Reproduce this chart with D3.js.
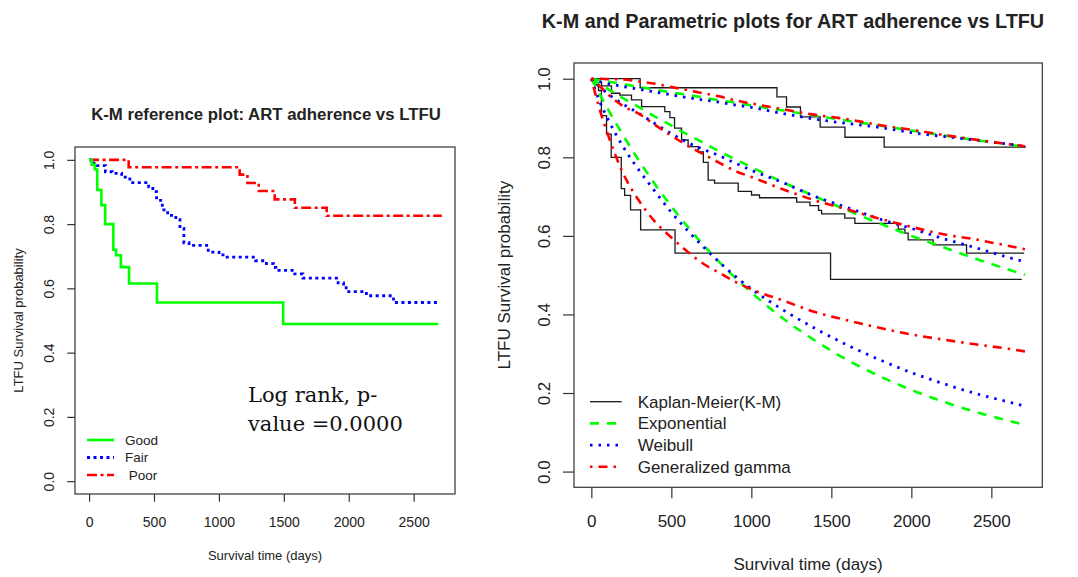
<!DOCTYPE html>
<html>
<head>
<meta charset="utf-8">
<script src="https://cdn.jsdelivr.net/npm/d3@7"></script>
<style>
	body { margin: 0; background: #fff; }
	svg text { font-family: "Liberation Sans", Arial, sans-serif; fill: #222; }
</style>
</head>
<body>
<div class="vis"></div>
<script>
// ---- data ----
const xTicks = [0, 500, 1000, 1500, 2000, 2500]
const yTicks = [0, 0.2, 0.4, 0.6, 0.8, 1.0]
const X_MAX = 2710

const groups = ['Good', 'Fair', 'Poor']
const groupLabels = ['Good', 'Fair', ' Poor']

// Kaplan-Meier steps (day of drop, survival after drop)
const kmGoodDays = [0, 20, 45, 63, 95, 124, 187, 208, 245, 308, 523, 1495]
const kmGoodSurv = [1.0, 0.985, 0.970, 0.906, 0.859, 0.800, 0.720, 0.703, 0.666, 0.615, 0.556, 0.489]
const kmFairDays = [0, 30, 64, 126, 178, 251, 314, 459, 491, 520, 564, 605, 668, 700, 730, 770, 918, 1001, 1051, 1283, 1366, 1420, 1439, 1584, 1647, 1918, 1960, 1980, 2136, 2345]
const kmFairSurv = [1.0, 0.990, 0.982, 0.963, 0.958, 0.946, 0.929, 0.916, 0.901, 0.874, 0.844, 0.827, 0.814, 0.787, 0.742, 0.734, 0.713, 0.704, 0.697, 0.686, 0.677, 0.665, 0.656, 0.645, 0.632, 0.617, 0.607, 0.590, 0.577, 0.556]
const kmPoorDays = [0, 305, 1160, 1220, 1307, 1430, 1585, 1830]
const kmPoorSurv = [1.0, 0.977, 0.954, 0.928, 0.903, 0.877, 0.851, 0.826]
const kmLastDay = [2690, 2705, 2717]

// parametric fits, read at these days
const fitDays = [0, 50, 100, 200, 300, 400, 500, 600, 700, 800, 900, 1000, 1200, 1400, 1600, 1800, 2000, 2200, 2400, 2600, 2710]
const expGood = [1.0, 0.962, 0.925, 0.855, 0.790, 0.730, 0.675, 0.624, 0.577, 0.533, 0.493, 0.456, 0.389, 0.333, 0.284, 0.243, 0.208, 0.178, 0.152, 0.130, 0.119]
const weibGood = [1.0, 0.944, 0.900, 0.826, 0.766, 0.712, 0.660, 0.614, 0.572, 0.533, 0.497, 0.465, 0.411, 0.364, 0.322, 0.285, 0.252, 0.224, 0.199, 0.178, 0.167]
const ggGood = [1.0, 0.925, 0.862, 0.758, 0.688, 0.635, 0.596, 0.560, 0.529, 0.506, 0.483, 0.464, 0.435, 0.406, 0.385, 0.366, 0.349, 0.336, 0.324, 0.313, 0.306]
const expFair = [1.0, 0.987, 0.975, 0.950, 0.927, 0.903, 0.881, 0.858, 0.837, 0.815, 0.795, 0.775, 0.736, 0.700, 0.665, 0.632, 0.600, 0.571, 0.542, 0.515, 0.501]
const weibFair = [1.0, 0.980, 0.963, 0.935, 0.911, 0.885, 0.860, 0.838, 0.820, 0.804, 0.785, 0.767, 0.735, 0.700, 0.672, 0.643, 0.619, 0.593, 0.570, 0.546, 0.534]
const ggFair = [1.0, 0.982, 0.962, 0.930, 0.910, 0.882, 0.855, 0.830, 0.808, 0.786, 0.765, 0.750, 0.718, 0.690, 0.667, 0.644, 0.623, 0.604, 0.591, 0.575, 0.566]
const expPoor = [1.0, 0.996, 0.993, 0.986, 0.979, 0.972, 0.965, 0.959, 0.952, 0.945, 0.939, 0.932, 0.919, 0.906, 0.893, 0.881, 0.868, 0.856, 0.844, 0.833, 0.826]
const weibPoor = [1.0, 0.993, 0.988, 0.980, 0.973, 0.966, 0.959, 0.952, 0.946, 0.940, 0.933, 0.927, 0.911, 0.897, 0.886, 0.876, 0.863, 0.853, 0.844, 0.834, 0.828]
const ggPoor = [1.0, 1.0, 0.999, 0.998, 0.993, 0.987, 0.979, 0.971, 0.963, 0.955, 0.945, 0.937, 0.922, 0.908, 0.897, 0.882, 0.870, 0.857, 0.845, 0.834, 0.828]

const fitLabels = ['Kaplan-Meier(K-M)', 'Exponential', 'Weibull', 'Generalized gamma']

// ---- styles ----
const GREEN = '#00ff00'
const BLUE = '#0000ff'
const RED = '#ff0000'
const AXIS = '#333'

const leftStyles = [
	{ color: GREEN, width: 2.6, dash: null },
	{ color: BLUE, width: 2.8, dash: '3,3.5' },
	{ color: RED, width: 2.6, dash: '10,3.5,3,3.5' },
]
const fitStyles = [
	{ color: '#1a1a1a', width: 1.3, dash: null },
	{ color: GREEN, width: 2.6, dash: '9,8' },
	{ color: BLUE, width: 2.8, dash: '2.5,6' },
	{ color: RED, width: 2.6, dash: '2.5,6,9,6' },
]

const svg = d3.select('.vis').append('svg')
	.attr('width', 1078)
	.attr('height', 577)

function kmPoints(days, surv, last) {
	const pts = days.map((d, i) => [d, surv[i]])
	pts.push([last, surv[surv.length - 1]])
	return pts
}

const kmSeries = [
	kmPoints(kmGoodDays, kmGoodSurv, kmLastDay[0]),
	kmPoints(kmFairDays, kmFairSurv, kmLastDay[1]),
	kmPoints(kmPoorDays, kmPoorSurv, kmLastDay[2]),
]

function makeScales(box) {
	return {
		x: d3.scaleLinear().domain([-0.04 * X_MAX, 1.04 * X_MAX]).range([box.left, box.right]),
		y: d3.scaleLinear().domain([-0.04, 1.04]).range([box.bottom, box.top]),
	}
}

function drawFrame(g, s, box, st) {
	g.append('rect')
		.attr('x', box.left)
		.attr('y', box.top)
		.attr('width', box.right - box.left)
		.attr('height', box.bottom - box.top)
		.attr('fill', 'none')
		.attr('stroke', AXIS)
		.attr('stroke-width', 1.2)

	const xAxis = d3.axisBottom(s.x)
		.tickValues(xTicks)
		.tickSize(st.tick)
		.tickPadding(st.xPad)
		.tickFormat(d3.format('d'))

	const gx = g.append('g')
		.attr('transform', `translate(0,${box.bottom})`)
		.style('color', AXIS)
		.call(xAxis)
	gx.select('.domain').remove()
	gx.selectAll('line').attr('stroke-width', 1.2)
	gx.selectAll('text')
		.style('font-size', st.font + 'px')

	const yAxis = d3.axisLeft(s.y)
		.tickValues(yTicks)
		.tickSize(st.tick)
		.tickFormat(d3.format('.1f'))

	const gy = g.append('g')
		.attr('transform', `translate(${box.left},0)`)
		.style('color', AXIS)
		.call(yAxis)
	gy.select('.domain').remove()
	gy.selectAll('line').attr('stroke-width', 1.2)
	gy.selectAll('text')
		.style('font-size', st.font + 'px')
		.attr('transform', 'rotate(-90)')
		.attr('x', 0)
		.attr('y', -st.yLab)
		.attr('dy', 0)
		.attr('text-anchor', 'middle')

	// axis titles
	g.append('text')
		.attr('x', (box.left + box.right) / 2)
		.attr('y', st.xTitleY)
		.attr('text-anchor', 'middle')
		.style('font-size', st.titleFont + 'px')
		.text('Survival time (days)')

	g.append('text')
		.attr('transform', `translate(${st.yTitleX},${(box.top + box.bottom) / 2}) rotate(-90)`)
		.attr('text-anchor', 'middle')
		.style('font-size', st.titleFont + 'px')
		.text('LTFU Survival probability')
}

function stroke(sel, style) {
	sel.attr('fill', 'none')
		.attr('stroke', style.color)
		.attr('stroke-width', style.width)
		.attr('stroke-dasharray', style.dash)
}

// ---- left: K-M by adherence ----
function setupLeft() {
	const box = { left: 75, right: 455, top: 147, bottom: 494 }
	const s = makeScales(box)
	const g = svg.append('g').attr('class', 'left')

	drawFrame(g, s, box, { tick: 7.7, xPad: 15, font: 14, yLab: 21, titleFont: 13, xTitleY: 560, yTitleX: 23 })

	g.append('text')
		.attr('x', 266)
		.attr('y', 120)
		.attr('text-anchor', 'middle')
		.style('font-size', '16.8px')
		.style('font-weight', 'bold')
		.text('K-M reference plot: ART adherence vs LTFU')

	const step = d3.line()
		.x(d => s.x(d[0]))
		.y(d => s.y(d[1]))
		.curve(d3.curveStepAfter)

	// draw poor first so good sits on top like the original
	;[2, 1, 0].forEach(i => {
		g.append('path')
			.attr('d', step(kmSeries[i]))
			.call(stroke, leftStyles[i])
	})

	// legend
	const leg = g.append('g').attr('class', 'legend')
	groupLabels.forEach((label, i) => {
		const y = 440 + i * 17.5
		leg.append('line')
			.attr('x1', 87).attr('x2', 114)
			.attr('y1', y).attr('y2', y)
			.call(stroke, leftStyles[i])
		leg.append('text')
			.attr('x', 125)
			.attr('y', y)
			.attr('dy', '0.35em')
			.style('font-size', '13.5px')
			.style('white-space', 'pre')
			.text(label)
	})

	// log rank note
	const note = g.append('text')
		.style('font-family', '"DejaVu Serif", serif')
		.style('font-size', '21px')
		.style('fill', '#111')
	note.append('tspan').attr('x', 248).attr('y', 401.7).text('Log rank, p-')
	note.append('tspan').attr('x', 248).attr('y', 430.7).text('value =0.0000')
}

// ---- right: K-M and parametric fits ----
function setupRight() {
	const box = { left: 574, right: 1042.3, top: 63, bottom: 487.3 }
	const s = makeScales(box)
	const g = svg.append('g').attr('class', 'right')

	drawFrame(g, s, box, { tick: 11, xPad: 16.3, font: 17, yLab: 24, titleFont: 17, xTitleY: 570, yTitleX: 510 })

	g.append('text')
		.attr('x', 793)
		.attr('y', 28)
		.attr('text-anchor', 'middle')
		.style('font-size', '19.8px')
		.style('font-weight', 'bold')
		.text('K-M and Parametric plots for ART adherence vs LTFU')

	const step = d3.line()
		.x(d => s.x(d[0]))
		.y(d => s.y(d[1]))
		.curve(d3.curveStepAfter)

	kmSeries.forEach(pts => {
		g.append('path')
			.attr('d', step(pts))
			.call(stroke, fitStyles[0])
	})

	const smooth = d3.line()
		.x((d, i) => s.x(fitDays[i]))
		.y(d => s.y(d))
		.curve(d3.curveMonotoneX)

	const fits = [
		[expGood, expFair, expPoor],
		[weibGood, weibFair, weibPoor],
		[ggGood, ggFair, ggPoor],
	]
	fits.forEach((set, k) => {
		set.forEach(values => {
			g.append('path')
				.attr('d', smooth(values))
				.call(stroke, fitStyles[k + 1])
		})
	})

	const leg = g.append('g').attr('class', 'legend')
	fitLabels.forEach((label, i) => {
		const y = 401.7 + i * 21.7
		leg.append('line')
			.attr('x1', 590).attr('x2', 621.7)
			.attr('y1', y).attr('y2', y)
			.call(stroke, fitStyles[i])
		leg.append('text')
			.attr('x', 637.7)
			.attr('y', y)
			.attr('dy', '0.35em')
			.style('font-size', '17px')
			.text(label)
	})
}

setupLeft()
setupRight()
</script>
</body>
</html>
